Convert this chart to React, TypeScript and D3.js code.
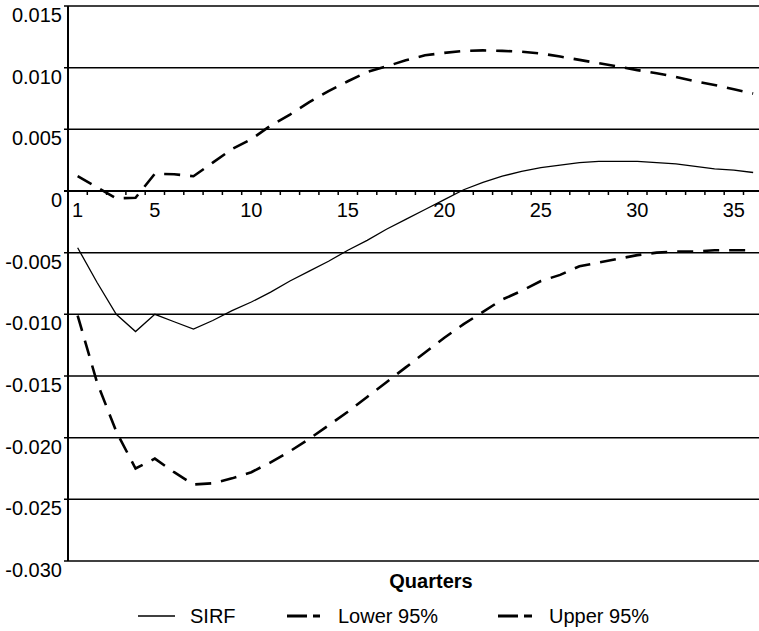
import React from "react";
import * as d3 from "d3";

const quarters: number[] = Array.from({ length: 36 }, (_, i) => i + 1);

const sirf: number[] = [
  -0.0046, -0.0074, -0.0100, -0.0114, -0.0100, -0.0106, -0.0112, -0.0105, -0.0097, -0.0090,
  -0.0082, -0.0073, -0.0065, -0.0057, -0.0048, -0.0040, -0.0031, -0.0023, -0.0015, -0.0007,
  0.0001, 0.0007, 0.0012, 0.0016, 0.0019, 0.0021, 0.0023, 0.0024, 0.0024, 0.0024,
  0.0023, 0.0022, 0.0020, 0.0018, 0.0017, 0.0015,
];

const lower95: number[] = [
  -0.0101, -0.0155, -0.0195, -0.0225, -0.0217, -0.0228, -0.0238, -0.0237, -0.0233, -0.0228,
  -0.0220, -0.0211, -0.0201, -0.0190, -0.0179, -0.0167, -0.0155, -0.0143, -0.0131, -0.0119,
  -0.0108, -0.0098, -0.0088, -0.0081, -0.0073, -0.0068, -0.0061, -0.0058, -0.0055, -0.0052,
  -0.0050, -0.0049, -0.0049, -0.0048, -0.0048, -0.0048,
];

const upper95: number[] = [
  0.0012, 0.0003, -0.0006, -0.00055, 0.0014, 0.00136, 0.0012, 0.0023, 0.0034, 0.0042,
  0.0053, 0.0062, 0.0072, 0.0081, 0.0089, 0.00965, 0.0101, 0.0106, 0.0110, 0.0112,
  0.01136, 0.0114, 0.01136, 0.0113, 0.01115, 0.0109, 0.01063, 0.01036, 0.0101, 0.0098,
  0.00955, 0.00925, 0.0089, 0.0086, 0.00825, 0.0079,
];

const yTicks: number[] = [0.015, 0.01, 0.005, 0, -0.005, -0.01, -0.015, -0.02, -0.025, -0.03];
const yTickLabels: string[] = ["0.015", "0.010", "0.005", "0", "-0.005", "-0.010", "-0.015", "-0.020", "-0.025", "-0.030"];
const xTickLabels: number[] = [1, 5, 10, 15, 20, 25, 30, 35];
const seriesNames: string[] = ["SIRF", "Lower 95%", "Upper 95%"];
const xTitle = "Quarters";

const W = 759;
const H = 631;
const left = 68;
const FONT = "'Liberation Sans', Arial, Helvetica, sans-serif";

export default function App() {
  const x = d3.scaleBand<number>().domain(quarters).range([left, left + 36 * 19.3]).paddingInner(0).paddingOuter(0);
  const bw = x.bandwidth();
  const y = d3.scaleLinear().domain([-0.03, 0.015]).range([561, 6]);
  const cx = (q: number) => (x(q) as number) + bw / 2;

  const line = d3
    .line<number>()
    .x((_, i) => cx(quarters[i]))
    .y((d) => y(d));

  const legend = [
    { name: seriesNames[0], x1: 138, x2: 175, tx: 190, dash: undefined as string | undefined, w: 1.6 },
    { name: seriesNames[1], x1: 287, x2: 320, tx: 338, dash: "20,6", w: 3 },
    { name: seriesNames[2], x1: 498, x2: 532, tx: 549, dash: "20,6", w: 3 },
  ];

  return (
    <svg
      width={W}
      height={H}
      style={{ position: "absolute", left: 0, top: 0, background: "#fff" }}
      fontFamily={FONT}
    >
      <rect x={0} y={0} width={W} height={H} fill="#fff" />
      {/* gridlines */}
      {yTicks.map((t, i) => (
        <g key={"g" + i}>
          <line x1={left - 4} x2={W + 10} y1={y(t)} y2={y(t)} stroke="#000" strokeWidth={t === 0 ? 2 : 1.5} />
          <text x={62} y={y(t) + 16} textAnchor="end" fontSize={20} fill="#000">
            {yTickLabels[i]}
          </text>
        </g>
      ))}
      {/* left axis */}
      <line x1={left} x2={left} y1={y(0.015)} y2={y(-0.03)} stroke="#000" strokeWidth={2} />
      {/* x ticks on zero line */}
      {quarters.map((q) => (
        <line key={"t" + q} x1={(x(q) as number) + bw} x2={(x(q) as number) + bw} y1={y(0)} y2={y(0) + 4} stroke="#000" strokeWidth={1.5} />
      ))}
      {xTickLabels.map((q) => (
        <text key={"xl" + q} x={cx(q)} y={216.5} textAnchor="middle" fontSize={20} fill="#000">
          {q}
        </text>
      ))}
      {/* series */}
      <path d={line(sirf) || ""} fill="none" stroke="#000" strokeWidth={1.3} />
      <path d={line(lower95) || ""} fill="none" stroke="#000" strokeWidth={2.6} strokeDasharray="16,10" />
      <path d={line(upper95) || ""} fill="none" stroke="#000" strokeWidth={2.6} strokeDasharray="16,10" />
      {/* axis title */}
      <text x={431} y={587.5} textAnchor="middle" fontSize={20} fontWeight="bold" fill="#000">
        {xTitle}
      </text>
      {/* legend */}
      {legend.map((l, i) => (
        <g key={"lg" + i}>
          <line x1={l.x1} x2={l.x2} y1={616} y2={616} stroke="#000" strokeWidth={l.w} strokeDasharray={l.dash} />
          <text x={l.tx} y={623} fontSize={20} fill="#000">
            {l.name}
          </text>
        </g>
      ))}
    </svg>
  );
}
